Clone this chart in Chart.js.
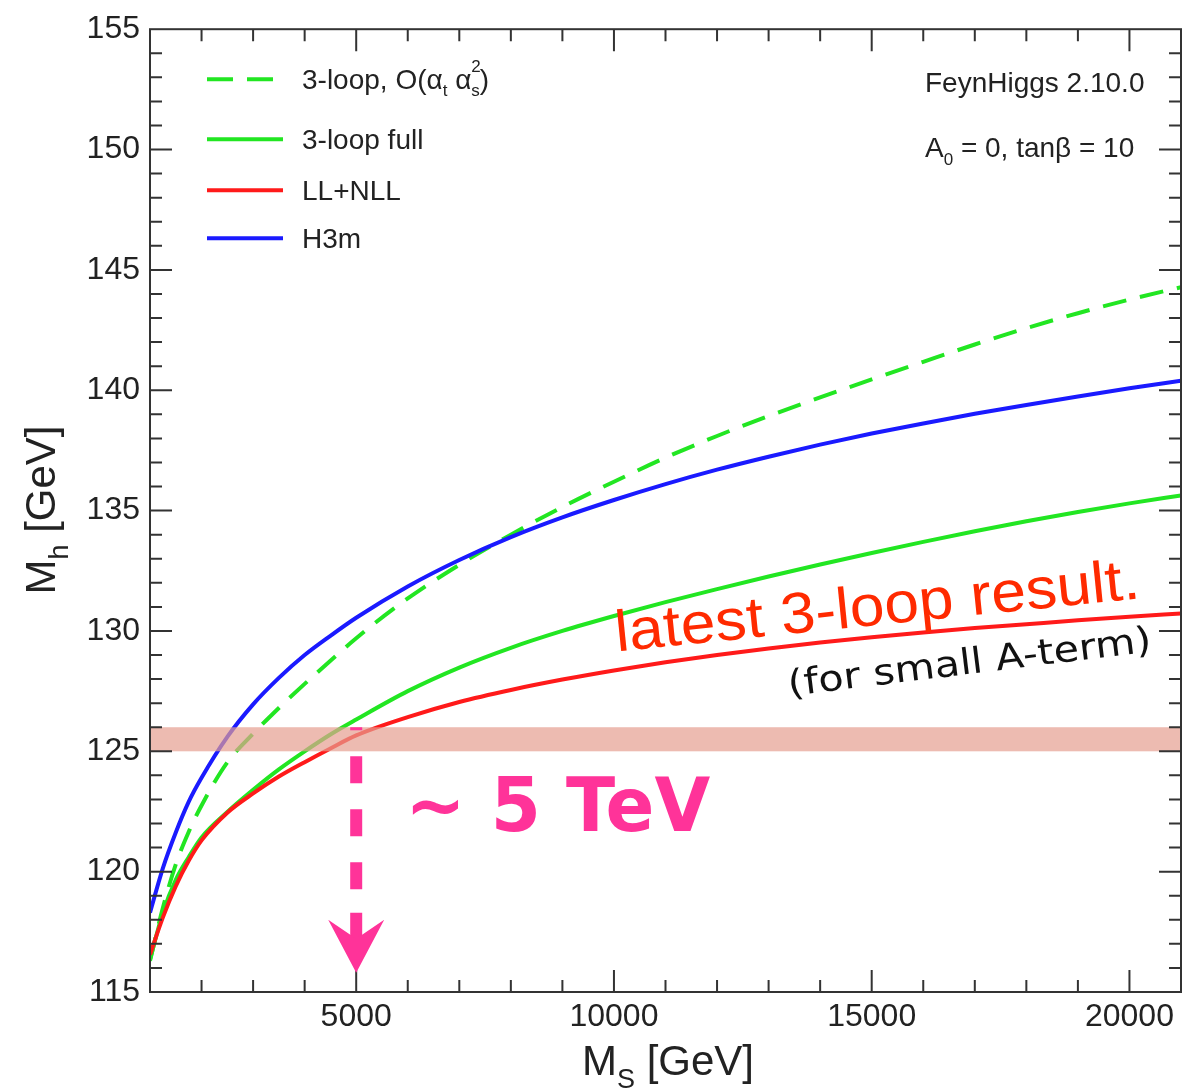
<!DOCTYPE html>
<html>
<head>
<meta charset="utf-8">
<script src="https://cdn.jsdelivr.net/npm/chart.js@4"></script>
<style>
  html, body { margin: 0; padding: 0; background: #fff; }
  #wrap { width: 1183px; height: 1090px; position: relative; }
</style>
</head>
<body>
<div id="wrap"><canvas id="mh"></canvas></div>
<script>
// M_S [GeV]
const msValues = [1000, 1250, 1500, 1750, 2000, 2500, 3000, 3500, 4000, 4500, 5000, 6000, 7000, 8000,
  9000, 10000, 11000, 12000, 13000, 14000, 15000, 16000, 17000, 18000, 19000, 20000, 21000];
// M_h [GeV] per curve
const mhO3 = [116.3, 118.5, 120.3, 121.65, 122.75, 124.54, 125.73, 126.8, 127.8, 128.76, 129.7, 131.35, 132.75, 134.0,
  135.15, 136.2, 137.2, 138.1, 138.93, 139.7, 140.45, 141.18, 141.9, 142.58, 143.2, 143.77, 144.28];
const mhFull = [116.35, 118.3, 119.66, 120.6, 121.42, 122.48, 123.4, 124.25, 125.0, 125.7, 126.32, 127.5, 128.48, 129.3,
  130.0, 130.62, 131.2, 131.74, 132.26, 132.76, 133.24, 133.7, 134.14, 134.56, 134.94, 135.3, 135.63];
const mhLL = [116.55, 118.1, 119.4, 120.45, 121.3, 122.45, 123.25, 123.95, 124.55, 125.12, 125.66, 126.42, 127.05, 127.55,
  127.98, 128.36, 128.7, 129.0, 129.27, 129.52, 129.74, 129.94, 130.12, 130.28, 130.44, 130.59, 130.73];
const mhH3m = [118.3, 120.15, 121.63, 122.9, 123.9, 125.6, 126.95, 128.05, 129.0, 129.8, 130.55, 131.85, 132.95, 133.9,
  134.72, 135.44, 136.1, 136.7, 137.24, 137.74, 138.2, 138.62, 139.02, 139.39, 139.74, 140.08, 140.4];

const seriesNames = ['3-loop, O(\u03b1t \u03b1s\u00b2)', '3-loop full', 'LL+NLL', 'H3m'];
const xTickValues = [5000, 10000, 15000, 20000];
const yTickValues = [115, 120, 125, 130, 135, 140, 145, 150, 155];
const bandRange = [125, 126];
const arrowX = 5000, arrowFrom = 126, arrowTo = 115.8;

const GREEN = '#22e622', RED = '#ff1a1a', BLUE = '#1a1aff', PINK = '#ff3399';
const FONT = '"Liberation Sans", Arial, sans-serif';

function pts(arr) { return msValues.map((x, i) => ({ x: x, y: arr[i] })); }

// draw text made of pieces with sub/superscripts
function richWidth(ctx, parts, size) {
  let w = 0;
  parts.forEach(p => {
    ctx.font = Math.round(size * (p.s || 1)) + 'px ' + FONT;
    if (!p.back) w += ctx.measureText(p.t).width;
  });
  return w;
}
function drawRich(ctx, parts, x, y, size, color, align) {
  let cx = x;
  if (align === 'center') cx = x - richWidth(ctx, parts, size) / 2;
  ctx.fillStyle = color;
  ctx.textBaseline = 'alphabetic';
  ctx.textAlign = 'left';
  parts.forEach(p => {
    ctx.font = Math.round(size * (p.s || 1)) + 'px ' + FONT;
    ctx.fillText(p.t, cx, y + (p.d || 0) * size);
    if (!p.back) cx += ctx.measureText(p.t).width;
  });
}
function fitText(ctx, text, x, y, w, font, color, deg) {
  ctx.save();
  ctx.translate(x, y);
  ctx.rotate(deg * Math.PI / 180);
  ctx.font = font;
  const m = ctx.measureText(text).width;
  ctx.scale(w / m, 1);
  ctx.fillStyle = color;
  ctx.textAlign = 'left';
  ctx.textBaseline = 'alphabetic';
  ctx.fillText(text, 0, 0);
  ctx.restore();
}

const decorPlugin = {
  id: 'decor',
  afterDatasetsDraw(chart) {
    const ctx = chart.ctx, a = chart.chartArea;
    const xs = chart.scales.x, ys = chart.scales.y;

    // measured mass band
    ctx.save();
    ctx.fillStyle = 'rgba(229,158,144,0.7)';
    const b1 = ys.getPixelForValue(bandRange[1]), b0 = ys.getPixelForValue(bandRange[0]);
    ctx.fillRect(a.left, b1, a.right - a.left, b0 - b1);
    ctx.restore();

    // frame + inward ticks on all sides
    ctx.save();
    ctx.strokeStyle = '#333';
    ctx.lineWidth = 2;
    ctx.strokeRect(a.left, a.top, a.right - a.left, a.bottom - a.top);
    ctx.beginPath();
    for (let v = 2000; v <= 20000; v += 1000) {
      const px = xs.getPixelForValue(v), len = v % 5000 === 0 ? 22 : 12;
      ctx.moveTo(px, a.bottom); ctx.lineTo(px, a.bottom - len);
      ctx.moveTo(px, a.top); ctx.lineTo(px, a.top + len);
    }
    for (let v = 116; v <= 154; v += 1) {
      const py = ys.getPixelForValue(v), len = v % 5 === 0 ? 22 : 12;
      ctx.moveTo(a.left, py); ctx.lineTo(a.left + len, py);
      ctx.moveTo(a.right, py); ctx.lineTo(a.right - len, py);
    }
    ctx.stroke();
    ctx.restore();

    // legend
    const legendRows = [
      { c: GREEN, dash: [26, 14], y: 50,
        parts: [{ t: '3-loop, O(\u03b1' }, { t: 't', d: 0.25, s: 0.6 }, { t: ' \u03b1' },
                { t: '2', d: -0.6, s: 0.6, back: true }, { t: 's', d: 0.25, s: 0.6 }, { t: ')' }] },
      { c: GREEN, dash: [], y: 110, parts: [{ t: seriesNames[1] }] },
      { c: RED, dash: [], y: 161, parts: [{ t: seriesNames[2] }] },
      { c: BLUE, dash: [], y: 209, parts: [{ t: seriesNames[3] }] }
    ];
    legendRows.forEach(r => {
      ctx.save();
      ctx.strokeStyle = r.c;
      ctx.lineWidth = 4;
      ctx.setLineDash(r.dash);
      ctx.beginPath();
      ctx.moveTo(a.left + 57, a.top + r.y);
      ctx.lineTo(a.left + 133, a.top + r.y);
      ctx.stroke();
      ctx.restore();
      drawRich(ctx, r.parts, a.left + 152, a.top + r.y + 10, 28, '#222', 'left');
    });

    // top-right annotation
    drawRich(ctx, [{ t: 'FeynHiggs 2.10.0' }], 925, 92, 28, '#222', 'left');
    drawRich(ctx, [{ t: 'A' }, { t: '0', d: 0.3, s: 0.6 }, { t: ' = 0, tan\u03b2 = 10' }], 925, 157, 28, '#222', 'left');

    // axis titles
    drawRich(ctx, [{ t: 'M' }, { t: 'S', d: 0.3, s: 0.65 }, { t: ' [GeV]' }], 668, 1075, 42, '#222', 'center');
    ctx.save();
    ctx.translate(55, 510);
    ctx.rotate(-Math.PI / 2);
    drawRich(ctx, [{ t: 'M' }, { t: 'h', d: 0.3, s: 0.65 }, { t: ' [GeV]' }], 0, 0, 42, '#222', 'center');
    ctx.restore();

    // hand-written annotations
    fitText(ctx, 'latest 3-loop result.', xs.getPixelForValue(10060), ys.getPixelForValue(129.15),
      527, '58px ' + FONT, '#ff2a00', -5.8);
    fitText(ctx, '(for small A-term)', xs.getPixelForValue(13400), ys.getPixelForValue(127.3),
      366, '36px "DejaVu Sans", sans-serif', '#111', -7);
    fitText(ctx, '~ 5 TeV', xs.getPixelForValue(5950), ys.getPixelForValue(121.7),
      305, 'bold 75px "DejaVu Sans", sans-serif', PINK, 0);

    // dashed arrow down to M_S = 5 TeV
    const ax = xs.getPixelForValue(arrowX);
    const ay0 = ys.getPixelForValue(arrowFrom), ay1 = ys.getPixelForValue(arrowTo);
    ctx.save();
    ctx.strokeStyle = PINK;
    ctx.fillStyle = PINK;
    ctx.lineWidth = 12;
    ctx.setLineDash([27, 26]);
    ctx.lineDashOffset = 24;
    ctx.beginPath();
    ctx.moveTo(ax, ay0);
    ctx.lineTo(ax, ay1 - 58);
    ctx.stroke();
    ctx.setLineDash([]);
    ctx.beginPath();
    ctx.moveTo(ax, ay1 - 60);
    ctx.lineTo(ax, ay1 - 30);
    ctx.stroke();
    ctx.beginPath();
    ctx.moveTo(ax, ay1);
    ctx.lineTo(ax - 28, ay1 - 53);
    ctx.lineTo(ax, ay1 - 34);
    ctx.lineTo(ax + 28, ay1 - 53);
    ctx.closePath();
    ctx.fill();
    ctx.restore();
  }
};

new Chart(document.getElementById('mh'), {
  type: 'line',
  data: {
    datasets: [
      { label: seriesNames[0], data: pts(mhO3), borderColor: GREEN, borderDash: [24, 14], order: 1 },
      { label: seriesNames[1], data: pts(mhFull), borderColor: GREEN, order: 2 },
      { label: seriesNames[2], data: pts(mhLL), borderColor: RED, order: 0 },
      { label: seriesNames[3], data: pts(mhH3m), borderColor: BLUE, order: 0 }
    ]
  },
  options: {
    responsive: true,
    maintainAspectRatio: false,
    animation: false,
    layout: { padding: { top: 25, right: 2, left: 0, bottom: 0 } },
    elements: {
      line: { borderWidth: 4, tension: 0.4, cubicInterpolationMode: 'monotone', fill: false },
      point: { radius: 0 }
    },
    plugins: { legend: { display: false }, tooltip: { enabled: false } },
    scales: {
      x: {
        type: 'linear', min: 1000, max: 21000,
        grid: { display: false, drawTicks: false },
        border: { display: false },
        afterBuildTicks: s => { s.ticks = xTickValues.map(v => ({ value: v })); },
        afterFit: s => { s.height = 98; },
        ticks: {
          color: '#222', font: { size: 32, family: FONT }, padding: 6, maxRotation: 0, autoSkip: false,
          callback: v => String(v)
        }
      },
      y: {
        min: 115, max: 155,
        grid: { display: false, drawTicks: false },
        border: { display: false },
        afterBuildTicks: s => { s.ticks = yTickValues.map(v => ({ value: v })); },
        afterFit: s => { s.width = 150; },
        ticks: { color: '#222', font: { size: 32, family: FONT }, padding: 10, callback: v => String(v) }
      }
    }
  },
  plugins: [decorPlugin]
});
</script>
</body>
</html>
